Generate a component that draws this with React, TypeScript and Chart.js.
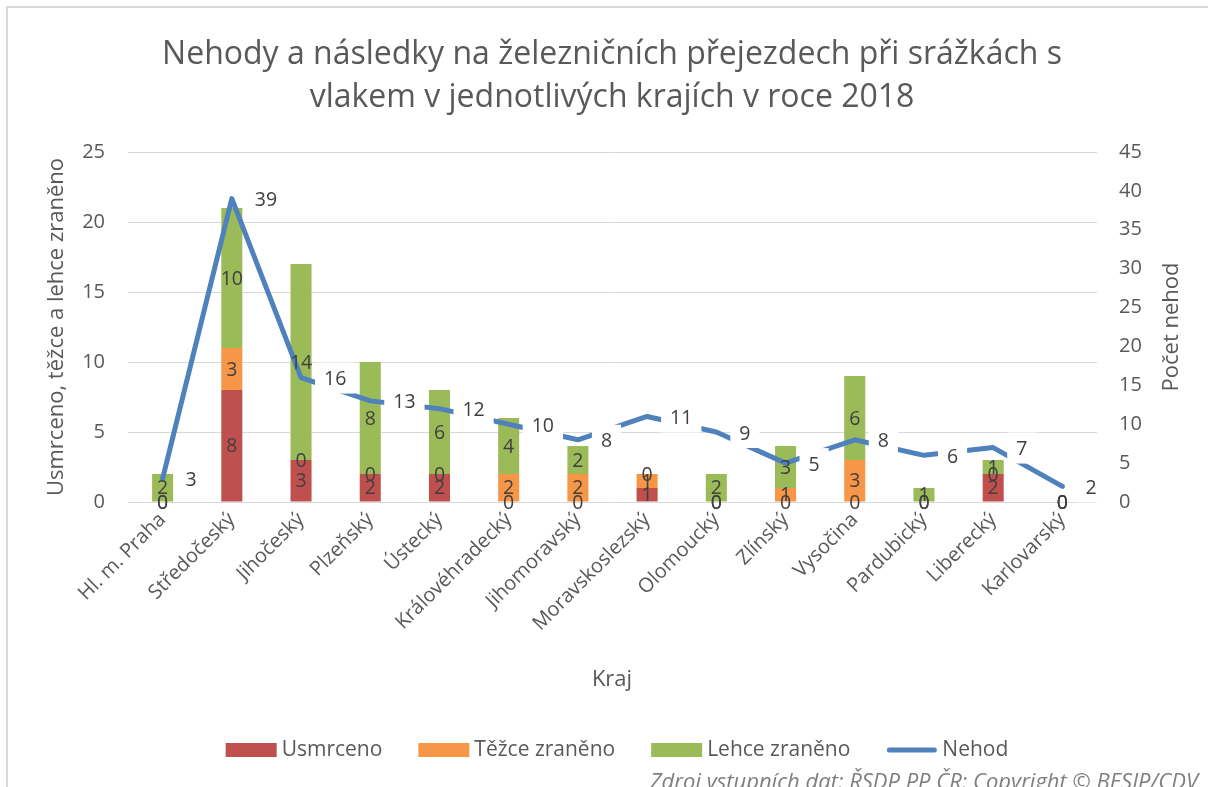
import React, { useEffect, useRef } from "react";
import { Chart, registerables } from "chart.js";
Chart.register(...registerables);

const titleLines = [
  "Nehody a následky na železničních přejezdech při srážkách s",
  "vlakem v jednotlivých krajích v roce 2018",
];
const categories = [
  "Hl. m. Praha",
  "Středočeský",
  "Jihočeský",
  "Plzeňský",
  "Ústecký",
  "Královéhradecký",
  "Jihomoravský",
  "Moravskoslezský",
  "Olomoucký",
  "Zlínský",
  "Vysočina",
  "Pardubický",
  "Liberecký",
  "Karlovarský",
];
const usmrceno = [0, 8, 3, 2, 2, 0, 0, 1, 0, 0, 0, 0, 2, 0];
const tezce = [0, 3, 0, 0, 0, 2, 2, 1, 0, 1, 3, 0, 0, 0];
const lehce = [2, 10, 14, 8, 6, 4, 2, 0, 2, 3, 6, 1, 1, 0];
const nehod = [3, 39, 16, 13, 12, 10, 8, 11, 9, 5, 8, 6, 7, 2];
const leftAxisMax = 25;
const rightAxisMax = 45;
const tickStep = 5;
const leftAxisTitle = "Usmrceno, těžce a lehce zraněno";
const rightAxisTitle = "Počet nehod";
const xAxisTitle = "Kraj";
const footerText = "Zdroj vstupních dat: ŘSDP PP ČR; Copyright © BESIP/CDV";

const FONT = "'Open Sans', 'DejaVu Sans', sans-serif";
const RED = "#C0504D";
const ORANGE = "#F79646";
const GREEN = "#9BBB59";
const BLUE = "#4F81BD";
const TXT = "#595959";
const LBL = "#404040";

const W = 1208;
const H = 787;

const decorPlugin = {
  id: "decor",
  beforeDraw(chart: any) {
    const ctx = chart.ctx;
    ctx.save();
    ctx.fillStyle = "#ffffff";
    ctx.fillRect(0, 0, W, H);
    ctx.strokeStyle = "#D9D9D9";
    ctx.lineWidth = 2;
    ctx.beginPath();
    ctx.moveTo(7, H);
    ctx.lineTo(7, 7);
    ctx.lineTo(W, 7);
    ctx.stroke();
    ctx.restore();
  },
  afterDatasetsDraw(chart: any) {
    const ctx = chart.ctx;
    ctx.save();
    ctx.font = `19.5px ${FONT}`;
    ctx.textBaseline = "middle";
    // bar labels
    const barSets = [1, 2, 3];
    barSets.forEach((di) => {
      const meta = chart.getDatasetMeta(di);
      const data = chart.data.datasets[di].data;
      meta.data.forEach((el: any, i: number) => {
        const cy = (el.y + el.base) / 2;
        ctx.fillStyle = LBL;
        ctx.textAlign = "center";
        ctx.fillText(String(data[i]), el.x, cy + 1);
      });
    });
    // line labels
    const lm = chart.getDatasetMeta(0);
    const ld = chart.data.datasets[0].data;
    lm.data.forEach((pt: any, i: number) => {
      const txt = String(ld[i]);
      const w = ctx.measureText(txt).width;
      const left = pt.x + 23;
      ctx.fillStyle = "#ffffff";
      ctx.fillRect(left - 9, pt.y - 15, w + 18, 31);
      ctx.fillStyle = LBL;
      ctx.textAlign = "left";
      ctx.fillText(txt, left, pt.y + 2);
    });
    ctx.restore();
  },
  afterDraw(chart: any) {
    const ctx = chart.ctx;
    const area = chart.chartArea;
    const cy = (area.top + area.bottom) / 2;
    ctx.save();
    ctx.fillStyle = TXT;
    // title
    ctx.font = `32px ${FONT}`;
    ctx.textAlign = "center";
    ctx.textBaseline = "alphabetic";
    ctx.fillText(titleLines[0], 612, 64);
    ctx.fillText(titleLines[1], 612, 107);
    // axis titles
    ctx.font = `22px ${FONT}`;
    ctx.textBaseline = "middle";
    ctx.save();
    ctx.translate(57, cy);
    ctx.rotate(-Math.PI / 2);
    ctx.fillText(leftAxisTitle, 0, 0);
    ctx.restore();
    ctx.save();
    ctx.translate(1172, cy);
    ctx.rotate(-Math.PI / 2);
    ctx.fillText(rightAxisTitle, 0, 0);
    ctx.restore();
    ctx.fillText(xAxisTitle, 612, 680);
    // legend
    const items = [
      { label: "Usmrceno", color: RED, line: false },
      { label: "Těžce zraněno", color: ORANGE, line: false },
      { label: "Lehce zraněno", color: GREEN, line: false },
      { label: "Nehod", color: BLUE, line: true },
    ];
    ctx.font = `21px ${FONT}`;
    const boxW = 51;
    const gapBT = 5;
    const gapItem = 36;
    const widths = items.map((it) => boxW + gapBT + ctx.measureText(it.label).width);
    const total = widths.reduce((a, b) => a + b, 0) + gapItem * (items.length - 1);
    let x = 617 - total / 2;
    const ly = 750;
    items.forEach((it, i) => {
      if (it.line) {
        ctx.strokeStyle = it.color;
        ctx.lineWidth = 5;
        ctx.lineCap = "round";
        ctx.beginPath();
        ctx.moveTo(x + 3, ly);
        ctx.lineTo(x + boxW - 3, ly);
        ctx.stroke();
      } else {
        ctx.fillStyle = it.color;
        ctx.fillRect(x, ly - 7, boxW, 14);
      }
      ctx.fillStyle = TXT;
      ctx.textAlign = "left";
      ctx.fillText(it.label, x + boxW + gapBT, ly);
      x += widths[i] + gapItem;
    });
    // footer
    ctx.font = `italic 22px ${FONT}`;
    ctx.fillStyle = "#7F7F7F";
    ctx.textAlign = "right";
    ctx.fillText(footerText, 1198, 783);
    ctx.restore();
  },
};

export default function App() {
  const ref = useRef<HTMLCanvasElement | null>(null);
  useEffect(() => {
    document.body.style.margin = "0";
    document.body.style.overflow = "hidden";
    const canvas = ref.current;
    if (!canvas) return;
    const chart = new Chart(canvas, {
      data: {
        labels: categories,
        datasets: [
          {
            type: "line",
            label: "Nehod",
            data: nehod,
            yAxisID: "y1",
            borderColor: BLUE,
            backgroundColor: BLUE,
            borderWidth: 5,
            pointRadius: 0,
            tension: 0,
            borderJoinStyle: "round",
            borderCapStyle: "round",
            order: 0,
          },
          { type: "bar", label: "Usmrceno", data: usmrceno, backgroundColor: RED, yAxisID: "y", order: 1, barPercentage: 1, categoryPercentage: 0.304 },
          { type: "bar", label: "Těžce zraněno", data: tezce, backgroundColor: ORANGE, yAxisID: "y", order: 1, barPercentage: 1, categoryPercentage: 0.304 },
          { type: "bar", label: "Lehce zraněno", data: lehce, backgroundColor: GREEN, yAxisID: "y", order: 1, barPercentage: 1, categoryPercentage: 0.304 },
        ],
      } as any,
      options: {
        responsive: false,
        animation: false,
        layout: { padding: { top: 152, left: 0, right: 0, bottom: 0 } },
        plugins: {
          legend: { display: false },
          title: { display: false },
          tooltip: { enabled: false },
        },
        scales: {
          x: {
            stacked: true,
            grid: { display: false, drawTicks: false },
            border: { display: false },
            ticks: {
              font: { family: FONT, size: 20 },
              color: TXT,
              maxRotation: 45,
              minRotation: 45,
              autoSkip: false,
              padding: 6,
            },
            afterFit: (s: any) => {
              s.height = 285;
            },
          },
          y: {
            stacked: true,
            position: "left",
            min: 0,
            max: leftAxisMax,
            ticks: { stepSize: tickStep, padding: 23, font: { family: FONT, size: 20 }, color: TXT },
            grid: { color: "#D9D9D9", lineWidth: 1, drawTicks: false },
            border: { display: false },
            afterFit: (s: any) => {
              s.width = 128;
            },
          },
          y1: {
            position: "right",
            min: 0,
            max: rightAxisMax,
            ticks: { stepSize: tickStep, padding: 22, font: { family: FONT, size: 20 }, color: TXT },
            grid: { display: false, drawTicks: false },
            border: { display: false },
            afterFit: (s: any) => {
              s.width = 111;
            },
          },
        },
      } as any,
      plugins: [decorPlugin],
    });
    return () => chart.destroy();
  }, []);
  return (
    <div style={{ width: W, height: H, position: "relative" }}>
      <canvas ref={ref} width={W} height={H} style={{ display: "block", width: W, height: H }} />
    </div>
  );
}
